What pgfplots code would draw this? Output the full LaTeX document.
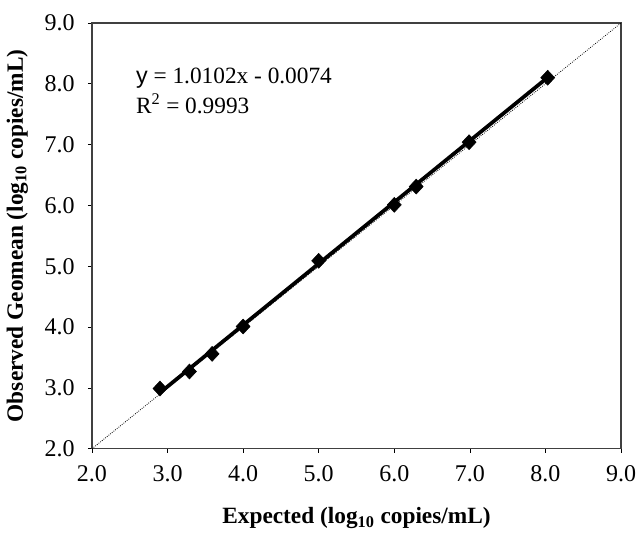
\documentclass[border=0pt]{standalone}
\usepackage{fontspec}
\setmainfont{Liberation Serif}
\newfontfamily\arialfont{Liberation Sans}
\usepackage{pgfplots}
\pgfplotsset{compat=1.18}

\begin{document}
\begin{tikzpicture}
\begin{axis}[
  scale only axis,
  width=397pt, height=319.5pt,
  xmin=2, xmax=9, ymin=2, ymax=9,
  xtick={2,3,...,9}, ytick={2,3,...,9},
  xticklabel={\pgfmathprintnumber[fixed,fixed zerofill,precision=1]{\tick}},
  yticklabel={\pgfmathprintnumber[fixed,fixed zerofill,precision=1]{\tick}},
  /pgf/number format/assume math mode=true,
  tick align=outside, major tick length=3pt,
  tick style={black, line width=0.5pt},
  axis line style={black!75, line width=0.9pt},
  xtick pos=bottom, ytick pos=left,
  ticklabel style={font=\fontsize{18}{20}\selectfont},
  xticklabel style={yshift=-6pt},
  yticklabel style={xshift=-6.5pt},
  xlabel={Expected (log\textsubscript{10} copies/mL)},
  ylabel={Observed Geomean (log\textsubscript{10} copies/mL)},
  every axis x label/.style={at={(axis description cs:0.5,-0.163)}, anchor=center,
    font=\fontsize{17.5}{20}\selectfont\bfseries},
  every axis y label/.style={at={(axis description cs:-0.141,0.5)}, rotate=90, anchor=center,
    font=\fontsize{17.5}{20}\selectfont\bfseries},
  clip=false,
]
% line of identity
\addplot[black, densely dotted, line width=0.6pt] coordinates {(2,2) (9,9)};
% regression line
\addplot[black, line width=2.8pt] coordinates {(2.9,2.922) (8.05,8.125)};
% observations
\addplot[only marks, mark=diamond*, mark size=5.6pt, black,
  mark options={xscale=1.25}] coordinates {
  (2.90,2.99) (3.29,3.27) (3.59,3.56) (4.00,4.01) (5.00,5.09)
  (6.00,6.01) (6.29,6.31) (6.99,7.04) (8.03,8.10)};
\node[anchor=base west, font=\fontsize{17.5}{20}\selectfont, inner sep=0pt]
  at (axis cs:2.58,8.0) {{\arialfont y} = 1.0102x - 0.0074};
\node[anchor=base west, font=\fontsize{17.5}{20}\selectfont, inner sep=0pt]
  at (axis cs:2.58,7.52) {R\textsuperscript{2} = 0.9993};
\coordinate (bl) at (rel axis cs:0,0);
\coordinate (tr) at (rel axis cs:1,1);
\end{axis}
\pgfresetboundingbox
\path[use as bounding box] ([shift={(-69pt,-65pt)}]bl) rectangle ([shift={(12pt,17.25pt)}]tr);
\end{tikzpicture}
\end{document}
